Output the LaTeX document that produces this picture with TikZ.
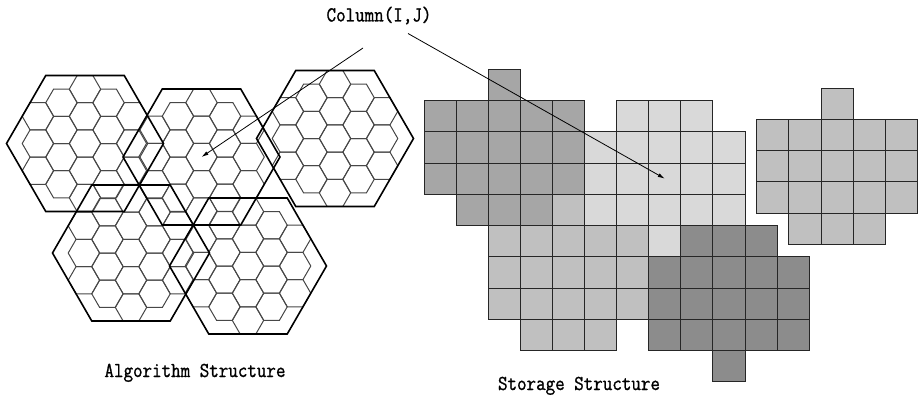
\documentclass[tikz,border=0pt]{standalone}
\usepackage{fontspec}
\usepackage{graphicx}
\newfontfamily\labelfont[FakeBold=1.2]{Latin Modern Mono}
\usetikzlibrary{arrows.meta}
\definecolor{gdark}{HTML}{A6A6A6}
\definecolor{gmed}{HTML}{C0C0C0}
\definecolor{glight}{HTML}{D9D9D9}
\definecolor{gdarker}{HTML}{8C8C8C}
\newcommand{\tallt}[1]{\scalebox{1}[1.15]{#1}}
\begin{document}
\begin{tikzpicture}[x=1pt,y=-1pt,
  bighex/.style={draw=black,line width=1.6pt,line join=miter},
  smallhex/.style={draw=black!72,line width=1pt},
  cellbox/.style={draw=black!85,line width=0.9pt},
  lbl/.style={font=\fontsize{18.5}{20}\selectfont\labelfont,inner sep=0pt},
  conn/.style={draw=black,line width=0.8pt,-{Latex[length=7pt,width=4pt]}},
  smallcluster/.pic={
    \foreach \qq in {-2,...,2}{
      \foreach \ss in {-2,...,2}{
        \pgfmathtruncatemacro\ok{abs(\qq+\ss)<=2}
        \ifnum\ok=1
          \draw[smallhex] ({1.5*\hr*\qq},{sqrt(3)*\hr*(\ss+\qq/2)}) +(0:\hr) -- +(60:\hr) -- +(120:\hr) -- +(180:\hr) -- +(240:\hr) -- +(300:\hr) -- cycle;
        \fi
      }}
  },
  bigoutline/.pic={
    \draw[bighex] (0:\HR) -- (60:\HR) -- (120:\HR) -- (180:\HR) -- (240:\HR) -- (300:\HR) -- cycle;
  }
]
\useasboundingbox (0,0) rectangle (920,399);
\def\HR{78.5}
\def\hr{15.7}

% hexagon centres
\coordinate (h1) at (85,143.5);
\coordinate (h2) at (201.5,157);
\coordinate (h3) at (335,138.5);
\coordinate (h4) at (131,253);
\coordinate (h5) at (248,266);

\foreach \h in {h1,h2,h3,h4,h5} \pic at (\h) {smallcluster};
\foreach \h in {h1,h2,h3,h4,h5} \pic at (\h) {bigoutline};

% storage grid
\def\gx{424}\def\gy{69.2}\def\gw{32.1}\def\gh{31.25}
\foreach \rw/\a/\b in {0/2/2,1/0/4,2/0/4,3/0/4,4/1/3}
  \foreach \cc in {\a,...,\b}
    \path[cellbox,fill=gdark] ({\gx+\gw*\cc},{\gy+\gh*\rw}) rectangle ++(\gw,\gh);
\foreach \rw/\a/\b in {1/6/8,2/5/9,3/5/9,4/5/9,5/7/7}
  \foreach \cc in {\a,...,\b}
    \path[cellbox,fill=glight] ({\gx+\gw*\cc},{\gy+\gh*\rw}) rectangle ++(\gw,\gh);
\foreach \rw/\a/\b in {4/4/4,5/2/6,6/2/6,7/2/6,8/3/5}
  \foreach \cc in {\a,...,\b}
    \path[cellbox,fill=gmed] ({\gx+\gw*\cc},{\gy+\gh*\rw}) rectangle ++(\gw,\gh);
\foreach \rw/\a/\b in {5/8/10,6/7/11,7/7/11,8/7/11,9/9/9}
  \foreach \cc in {\a,...,\b}
    \path[cellbox,fill=gdarker] ({\gx+\gw*\cc},{\gy+\gh*\rw}) rectangle ++(\gw,\gh);
% right block
\def\rx{756.7}\def\ry{88.4}\def\rwd{32.2}\def\rht{31.15}
\foreach \rw/\a/\b in {0/2/2,1/0/4,2/0/4,3/0/4,4/1/3}
  \foreach \cc in {\a,...,\b}
    \path[cellbox,fill=gmed] ({\rx+\rwd*\cc},{\ry+\rht*\rw}) rectangle ++(\rwd,\rht);

% labels
\node[lbl] (coltxt) at (379,15.5) {\tallt{Column(I,J)}};
\node[lbl,anchor=base] (algtxt) at (195,377) {\tallt{Algorithm Structure}};
\node[lbl,anchor=base] (stotxt) at (579,390) {\tallt{Storage Structure}};

% arrows
\coordinate (s1) at (363,48);
\coordinate (s2) at (408,33.5);
\coordinate (t2) at (664.75,178.6);
\draw[conn] (s1) -- (h2);
\draw[conn] (s2) -- (t2);
\end{tikzpicture}
\end{document}
